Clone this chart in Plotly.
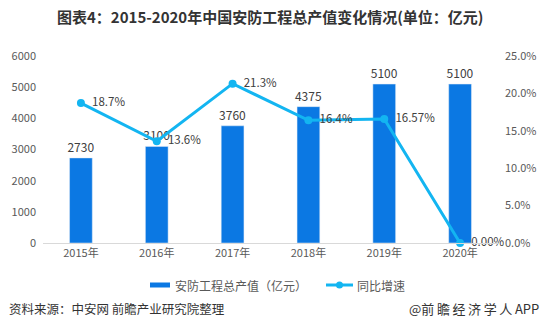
import plotly.graph_objects as go

years = ["2015年", "2016年", "2017年", "2018年", "2019年", "2020年"]
output_value = [2730, 3100, 3760, 4375, 5100, 5100]
growth_rate = [0.187, 0.136, 0.213, 0.164, 0.1657, 0.0]
growth_text = ["18.7%", "13.6%", "21.3%", "16.4%", "16.57%", "0.00%"]

FONT = "Noto Sans CJK SC, Microsoft YaHei, sans-serif"
BAR_COLOR = "#0b78e3"
LINE_COLOR = "#13b5f1"
W, H = 542, 334
L, R, T, B = 43, 44, 56, 91
PW, PH = W - L - R, H - T - B


def px(x):
    return (x - L) / PW


def py(y):
    return (H - B - y) / PH


fig = go.Figure()
fig.add_trace(go.Bar(
    x=years, y=output_value, name="安防工程总产值（亿元）",
    marker_color=BAR_COLOR, width=0.3,
    text=[str(v) for v in output_value], textposition="outside",
    constraintext="none",
    textfont=dict(size=12, color="#404040"), cliponaxis=False,
))
fig.add_trace(go.Scatter(
    x=years, y=growth_rate, name="同比增速", yaxis="y2",
    mode="lines+markers+text",
    line=dict(color=LINE_COLOR, width=3),
    marker=dict(size=8, color=LINE_COLOR),
    text=growth_text, texttemplate="  %{text}", textposition="middle right",
    textfont=dict(size=11.5, color="#404040"), cliponaxis=False,
))

fig.update_layout(
    width=W, height=H,
    margin=dict(l=L, r=R, t=T, b=B, autoexpand=False),
    paper_bgcolor="white", plot_bgcolor="white",
    font=dict(family=FONT, size=11, color="#595959"),
    showlegend=False,
    bargap=0.6,
    xaxis=dict(showline=True, linecolor="#d9d9d9", ticks="", showgrid=False,
               automargin=False,
               tickfont=dict(size=11, color="#595959")),
    yaxis=dict(range=[0, 6000], dtick=1000, showgrid=False, zeroline=False,
               ticklabelstandoff=6, automargin=False,
               tickfont=dict(size=11, color="#595959")),
    yaxis2=dict(range=[0, 0.25], dtick=0.05, tickformat=".1%", overlaying="y",
                side="right", showgrid=False, zeroline=False,
                ticklabelstandoff=6, automargin=False,
                tickfont=dict(size=11, color="#595959")),
)

# legend drawn by hand: wide bar swatch and line-with-dot swatch
legend_y = 285
fig.add_shape(type="rect", xref="paper", yref="paper",
              x0=px(150), x1=px(170), y0=py(legend_y + 2.5), y1=py(legend_y - 2.5),
              fillcolor=BAR_COLOR, line_width=0)
fig.add_annotation(text="安防工程总产值（亿元）", xref="paper", yref="paper",
                   x=px(173), xanchor="left", y=py(legend_y), yanchor="middle",
                   showarrow=False, font=dict(size=12, color="#595959", family=FONT))
fig.add_shape(type="line", xref="paper", yref="paper",
              x0=px(326), x1=px(353), y0=py(legend_y), y1=py(legend_y),
              line=dict(color=LINE_COLOR, width=3))
fig.add_shape(type="circle", xref="paper", yref="paper",
              x0=px(336), x1=px(343), y0=py(legend_y + 3.5), y1=py(legend_y - 3.5),
              fillcolor=LINE_COLOR, line_width=0)
fig.add_annotation(text="同比增速", xref="paper", yref="paper",
                   x=px(355), xanchor="left", y=py(legend_y), yanchor="middle",
                   showarrow=False, font=dict(size=12, color="#595959", family=FONT))

fig.add_annotation(text="<b>图表4：2015-2020年中国安防工程总产值变化情况(单位：亿元)</b>",
                   xref="paper", yref="paper", x=0.5, xanchor="center",
                   y=py(16), yanchor="middle",
                   showarrow=False, font=dict(size=15, color="#333333", family=FONT))
fig.add_annotation(text="资料来源：中安网 前瞻产业研究院整理",
                   xref="paper", yref="paper", x=px(7), xanchor="left",
                   y=py(308), yanchor="middle",
                   showarrow=False, font=dict(size=12.5, color="#333333", family=FONT))
fig.add_annotation(text="@前\u2009瞻\u2009经\u2009济\u2009学\u2009人\u2009APP",
                   xref="paper", yref="paper", x=px(541), xanchor="right",
                   y=py(308), yanchor="middle",
                   showarrow=False, font=dict(size=13, color="#333333", family=FONT))

fig.write_html("out.html")
